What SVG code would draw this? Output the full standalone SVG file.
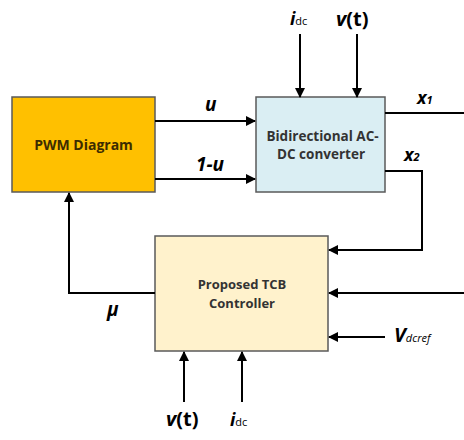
<svg xmlns="http://www.w3.org/2000/svg" width="464" height="440" viewBox="0 0 464 440">
<style>
.box{stroke:#5a5a5a;stroke-width:1.5}
.w{fill:none;stroke:#000;stroke-width:2}
.t{font-family:"Open Sans","Liberation Sans",sans-serif;font-weight:bold;fill:#333;text-anchor:middle}
.lab{font-family:"Open Sans","Liberation Sans",sans-serif;font-weight:bold;fill:#000}
.i{font-style:italic}
.sub{font-weight:normal;font-size:11px}
</style>
<defs>
<marker id="ah" markerWidth="10" markerHeight="10" refX="9" refY="5" orient="auto" markerUnits="userSpaceOnUse">
<path d="M0,0 L10,5 L0,10 Z" fill="#000"/>
</marker>
</defs>
<rect width="464" height="440" fill="#fff"/>
<g id="pwm">
<rect class="box" x="12" y="97" width="143" height="95" fill="#FFC000"/>
<text class="t" x="83.5" y="150" font-size="14" fill="#3d2c00" style="fill:#3d2c00">PWM Diagram</text>
</g>
<g id="converter">
<rect class="box" x="256" y="97" width="129" height="95" fill="#DAEEF3"/>
<text class="t" x="322.5" y="141" font-size="13.5">Bidirectional AC-</text>
<text class="t" x="321" y="159" font-size="13.5">DC converter</text>
</g>
<g id="controller">
<rect class="box" x="155" y="236" width="173" height="115" fill="#FFF2CC"/>
<text class="t" x="242" y="289" font-size="13">Proposed TCB</text>
<text class="t" x="242" y="308" font-size="13">Controller</text>
</g>
<g id="connectors">
<line class="w" x1="155" y1="121" x2="255" y2="121" marker-end="url(#ah)"/>
<line class="w" x1="155" y1="179" x2="255" y2="179" marker-end="url(#ah)"/>
<line class="w" x1="300" y1="34" x2="300" y2="97" marker-end="url(#ah)"/>
<line class="w" x1="357" y1="34" x2="357" y2="97" marker-end="url(#ah)"/>
<line class="w" x1="385" y1="113" x2="464" y2="113"/>
<polyline class="w" points="385,171 422,171 422,250 329,250" marker-end="url(#ah)"/>
<line class="w" x1="464" y1="293" x2="329" y2="293" marker-end="url(#ah)"/>
<line class="w" x1="385" y1="337" x2="329" y2="337" marker-end="url(#ah)"/>
<polyline class="w" points="155,293 69,293 69,193" marker-end="url(#ah)"/>
<line class="w" x1="184" y1="402" x2="184" y2="352" marker-end="url(#ah)"/>
<line class="w" x1="242" y1="402" x2="242" y2="352" marker-end="url(#ah)"/>
</g>
<g id="labels">
<text class="lab i" x="205" y="111" font-size="19">u</text>
<text class="lab i" x="196" y="171" font-size="19">1-u</text>
<text class="lab" x="290" y="25" font-size="18"><tspan class="i">i</tspan><tspan class="sub">dc</tspan></text>
<text class="lab" x="336" y="26" font-size="20"><tspan class="i">v</tspan>(t)</text>
<text class="lab i" x="417" y="104" font-size="18">x<tspan font-size="11">1</tspan></text>
<text class="lab i" x="404" y="161" font-size="18">x<tspan font-size="11">2</tspan></text>
<text class="lab i" x="107" y="316" font-size="19">μ</text>
<text class="lab" x="394" y="342" font-size="20"><tspan class="i">V</tspan><tspan class="i" font-weight="normal" font-size="11">dcref</tspan></text>
<text class="lab" x="166" y="426" font-size="20"><tspan class="i">v</tspan>(t)</text>
<text class="lab" x="230" y="426" font-size="18"><tspan class="i">i</tspan><tspan class="sub">dc</tspan></text>
</g>
</svg>
